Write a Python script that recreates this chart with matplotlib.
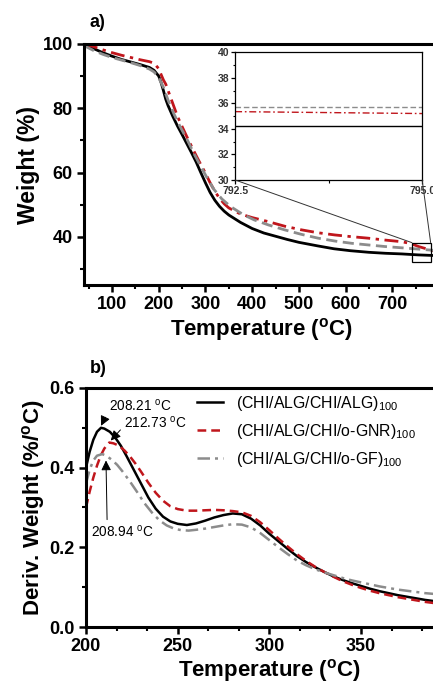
import matplotlib
matplotlib.use("Agg")
import matplotlib.pyplot as plt
from matplotlib.ticker import MultipleLocator, AutoMinorLocator
from matplotlib.patches import Rectangle, ConnectionPatch

plt.rcParams['font.family'] = ['Liberation Sans', 'DejaVu Sans']
plt.rcParams['mathtext.fontset'] = 'custom'
plt.rcParams['mathtext.rm'] = 'Liberation Sans'
plt.rcParams['mathtext.it'] = 'Liberation Sans:italic'
plt.rcParams['mathtext.bf'] = 'Liberation Sans:bold'

# ---------------- data: TGA (panel a) ----------------
tga_T_black = [40, 60, 80, 100, 120, 140, 160, 180, 190, 200, 205, 210, 215, 220, 230, 240, 250,
               260, 270, 280, 290, 300, 310, 320, 330, 340, 350, 375, 400, 425, 450, 475, 500,
               540, 575, 610, 650, 685, 720, 755, 790]
tga_W_black = [100, 98.6, 97.3, 96.2, 95.2, 94.4, 93.6, 92.7, 91.8, 90.0, 88.0, 85.5, 82.8, 80.8,
               77.5, 74.5, 71.8, 69.0, 66.2, 63.3, 60.0, 56.8, 53.8, 51.4, 49.5, 48.0, 46.8, 44.5,
               42.6, 41.2, 40.2, 39.2, 38.3, 37.2, 36.3, 35.7, 35.2, 34.9, 34.7, 34.4, 34.2]

tga_T_red = [40, 60, 80, 100, 120, 140, 160, 180, 190, 200, 205, 210, 215, 220, 230, 240, 250, 260,
             270, 280, 290, 300, 310, 320, 330, 340, 350, 375, 400, 433, 470, 505, 540, 577, 610,
             648, 685, 720, 740, 756, 775, 790]
tga_W_red = [100, 99.2, 98.2, 97.3, 96.5, 95.8, 95.1, 94.5, 94.0, 92.3, 90.5, 88.8, 87.5, 85.5,
             81.5, 77.5, 74.3, 71.2, 68.2, 65.3, 62.5, 59.8, 56.8, 54.2, 52.0, 50.3, 49.0, 47.1,
             46.0, 44.8, 43.3, 42.2, 41.3, 40.6, 40.1, 39.6, 39.0, 38.5, 37.9, 37.0, 36.2, 35.6]

tga_T_gray = [40, 60, 80, 100, 120, 140, 160, 180, 190, 200, 205, 210, 220, 232, 245, 261, 275, 290,
              304, 318, 335, 354, 380, 404, 435, 469, 505, 541, 577, 613, 648, 684, 720, 756, 790]
tga_W_gray = [99.5, 98.0, 96.8, 95.8, 95.0, 94.2, 93.3, 92.2, 91.3, 89.5, 88.0, 86.5, 82.5, 78.4,
              74.5, 70.2, 66.0, 61.9, 58.2, 54.8, 51.8, 49.4, 47.0, 45.3, 43.7, 42.2, 40.8, 39.6,
              38.7, 38.0, 37.5, 37.0, 36.6, 36.2, 35.8]

# inset (zoom of final residue)
inset_T = [792.5, 795.0]
inset_black = [34.2, 34.2]
inset_red = [35.35, 35.2]
inset_gray = [35.75, 35.75]

# ---------------- data: DTG (panel b) ----------------
dtg_T_black = [200, 202, 204, 206, 208.2, 210, 213, 216, 219, 222, 226, 230, 234, 238, 242, 246, 250,
               255, 260, 265, 270, 275, 280, 285, 290, 295, 300, 305, 310, 315, 320, 325, 330, 335,
               340, 345, 350, 355, 360, 365, 370, 375, 380, 385, 390, 395, 400]
dtg_D_black = [0.40, 0.44, 0.47, 0.49, 0.50, 0.498, 0.49, 0.475, 0.455, 0.43, 0.395, 0.36, 0.325,
               0.297, 0.277, 0.265, 0.259, 0.256, 0.260, 0.267, 0.275, 0.281, 0.285, 0.283, 0.272,
               0.255, 0.234, 0.215, 0.196, 0.178, 0.163, 0.150, 0.138, 0.127, 0.118, 0.110, 0.103,
               0.096, 0.090, 0.085, 0.080, 0.076, 0.072, 0.068, 0.065, 0.062, 0.060]

dtg_T_red = [200, 202, 204, 206, 208, 210, 212.7, 215, 218, 221, 224, 227, 230, 234, 238, 242, 246,
             250, 255, 260, 265, 270, 275, 280, 285, 290, 295, 300, 305, 310, 315, 320, 325, 330,
             335, 340, 345, 350, 355, 360, 365, 370, 375, 380, 385, 390, 395, 400]
dtg_D_red = [0.30, 0.34, 0.375, 0.405, 0.43, 0.448, 0.463, 0.461, 0.455, 0.443, 0.428, 0.41, 0.39,
             0.362, 0.337, 0.317, 0.303, 0.296, 0.292, 0.292, 0.293, 0.294, 0.293, 0.291, 0.288,
             0.279, 0.263, 0.243, 0.222, 0.202, 0.183, 0.166, 0.151, 0.138, 0.126, 0.115, 0.106,
             0.098, 0.091, 0.085, 0.080, 0.075, 0.071, 0.067, 0.063, 0.060, 0.058, 0.056]

dtg_T_gray = [200, 202, 204, 206, 208.9, 211, 214, 217, 220, 224, 228, 232, 236, 240, 244, 248, 252,
              256, 260, 265, 270, 275, 280, 285, 290, 295, 300, 305, 310, 315, 320, 325, 330, 335,
              340, 345, 350, 355, 360, 365, 370, 375, 380, 385, 390, 395, 400]
dtg_D_gray = [0.36, 0.395, 0.418, 0.43, 0.434, 0.430, 0.42, 0.407, 0.39, 0.365, 0.338, 0.31, 0.287,
              0.268, 0.255, 0.247, 0.243, 0.242, 0.244, 0.247, 0.251, 0.255, 0.258, 0.257, 0.250,
              0.236, 0.218, 0.200, 0.183, 0.167, 0.155, 0.145, 0.137, 0.130, 0.123, 0.117, 0.112,
              0.107, 0.102, 0.098, 0.094, 0.091, 0.088, 0.085, 0.083, 0.081, 0.080]

labels = [r'(CHI/ALG/CHI/ALG)$_{100}$', r'(CHI/ALG/CHI/o-GNR)$_{100}$', r'(CHI/ALG/CHI/o-GF)$_{100}$']
peaks = [(208.21, 0.505), (213.5, 0.468), (210.9, 0.418)]
peak_labels = [r'208.21 $^{\mathrm{o}}$C', r'212.73 $^{\mathrm{o}}$C', r'208.94 $^{\mathrm{o}}$C']

BLACK = '#000000'
RED = '#c0161c'
GRAY = '#8c8c8c'

fig = plt.figure(figsize=(4.33, 6.87), dpi=100)


def style_axes(ax, spine_w=2.2):
    for s in ax.spines.values():
        s.set_linewidth(spine_w)
    ax.tick_params(which='major', direction='out', length=5, width=1.8, labelsize=13, pad=3)
    ax.tick_params(which='minor', direction='out', length=3, width=1.5)
    for lab in ax.get_xticklabels() + ax.get_yticklabels():
        lab.set_fontweight('bold')


# ---------------- panel a ----------------
ax1 = fig.add_axes([0.194, 0.585, 0.82, 0.351])
ax1.plot(tga_T_black, tga_W_black, color=BLACK, lw=2.0, ls='-')
ax1.plot(tga_T_red, tga_W_red, color=RED, lw=2.0, ls=(0, (5, 2, 1.2, 2)))
ax1.plot(tga_T_gray, tga_W_gray, color=GRAY, lw=2.0, ls=(0, (4, 2)))
ax1.set_xlim(40, 800)
ax1.set_ylim(25, 100)
ax1.xaxis.set_major_locator(MultipleLocator(100))
ax1.xaxis.set_minor_locator(MultipleLocator(50))
ax1.yaxis.set_major_locator(MultipleLocator(20))
ax1.yaxis.set_minor_locator(MultipleLocator(10))
ax1.set_xticks([100, 200, 300, 400, 500, 600, 700])
style_axes(ax1)
ax1.set_xlabel(r'Temperature ($^{\mathbf{o}}$C)', fontsize=16, fontweight='bold', labelpad=2)
ax1.set_ylabel('Weight (%)', fontsize=16.5, fontweight='bold', labelpad=2)
fig.text(0.207, 0.967, 'a)', fontsize=13, fontweight='bold', ha='left', va='center')

# zoom rectangle
rect_x0, rect_x1, rect_y0, rect_y1 = 742, 782, 32.1, 38.2
ax1.add_patch(Rectangle((rect_x0, rect_y0), rect_x1 - rect_x0, rect_y1 - rect_y0,
                        fill=False, ec='black', lw=0.9, zorder=5))

# inset
axi = fig.add_axes([0.543, 0.738, 0.432, 0.186])
axi.plot(inset_T, inset_black, color=BLACK, lw=1.0)
axi.plot(inset_T, inset_red, color=RED, lw=1.0, ls=(0, (5, 2, 1.2, 2)))
axi.plot(inset_T, inset_gray, color=GRAY, lw=1.0, ls=(0, (4, 2)))
axi.set_xlim(792.5, 795.0)
axi.set_ylim(30, 40)
axi.set_xticks([792.5, 795.0])
axi.set_xticklabels(['792.5', '795.0'])
axi.xaxis.set_minor_locator(MultipleLocator(1.25))
axi.yaxis.set_major_locator(MultipleLocator(2))
axi.yaxis.set_minor_locator(MultipleLocator(1))
for s in axi.spines.values():
    s.set_linewidth(0.9)
axi.tick_params(which='major', direction='out', length=3, width=0.9, labelsize=7.5, pad=1)
axi.tick_params(which='minor', direction='out', length=1.8, width=0.8)
for lab in axi.get_xticklabels() + axi.get_yticklabels():
    lab.set_fontweight('bold')
    lab.set_color('#333333')

for (xa, ya), (xb, yb) in [((0, 0), (rect_x0, rect_y1)), ((1, 0), (rect_x1, rect_y1))]:
    cp = ConnectionPatch(xyA=(xa, ya), coordsA=axi.transAxes, xyB=(xb, yb), coordsB=ax1.transData,
                         color='#333333', lw=0.7)
    fig.add_artist(cp)

# ---------------- panel b ----------------
ax2 = fig.add_axes([0.1986, 0.0873, 0.847, 0.348])
l1, = ax2.plot(dtg_T_black, dtg_D_black, color=BLACK, lw=1.8, ls='-')
l2, = ax2.plot(dtg_T_red, dtg_D_red, color=RED, lw=1.8, ls=(0, (3.5, 2)))
l3, = ax2.plot(dtg_T_gray, dtg_D_gray, color=GRAY, lw=1.8, ls=(0, (5, 2, 1.2, 2)))
ax2.set_xlim(200, 400)
ax2.set_ylim(0, 0.6)
ax2.xaxis.set_major_locator(MultipleLocator(50))
ax2.xaxis.set_minor_locator(AutoMinorLocator(3))
ax2.yaxis.set_major_locator(MultipleLocator(0.2))
ax2.yaxis.set_minor_locator(MultipleLocator(0.1))
ax2.set_xticks([200, 250, 300, 350])
ax2.set_yticks([0.0, 0.2, 0.4, 0.6])
ax2.set_yticklabels(['0.0', '0.2', '0.4', '0.6'])
style_axes(ax2)
ax2.set_xlabel(r'Temperature ($^{\mathbf{o}}$C)', fontsize=16, fontweight='bold', labelpad=1)
ax2.set_ylabel(r'Deriv. Weight (%/$^{\mathbf{o}}$C)', fontsize=16, fontweight='bold', labelpad=2)
fig.text(0.207, 0.464, 'b)', fontsize=13, fontweight='bold', ha='left', va='center')

leg = ax2.legend([l1, l2, l3], labels, loc='upper left', bbox_to_anchor=(0.286, 1.003), frameon=False,
                 fontsize=11.4, handlelength=1.65, handletextpad=0.8, labelspacing=0.58, borderaxespad=0)

texts_xy = [(212.3, 0.556), (220.8, 0.513), (203.0, 0.239)]
relpos = [(0.0, 0.2), (0.0, 0.3), (0.25, 1.0)]
for (px, py), lab, (tx, ty), rp in zip(peaks, peak_labels, texts_xy, relpos):
    ax2.annotate(lab, xy=(px, py), xytext=(tx, ty), fontsize=9.8, ha='left', va='center',
                 arrowprops=dict(arrowstyle='-|>,head_length=0.6,head_width=0.3', color='black',
                                 lw=0.7, relpos=rp, shrinkA=1, shrinkB=0))

fig.savefig('out.png', dpi=100)
